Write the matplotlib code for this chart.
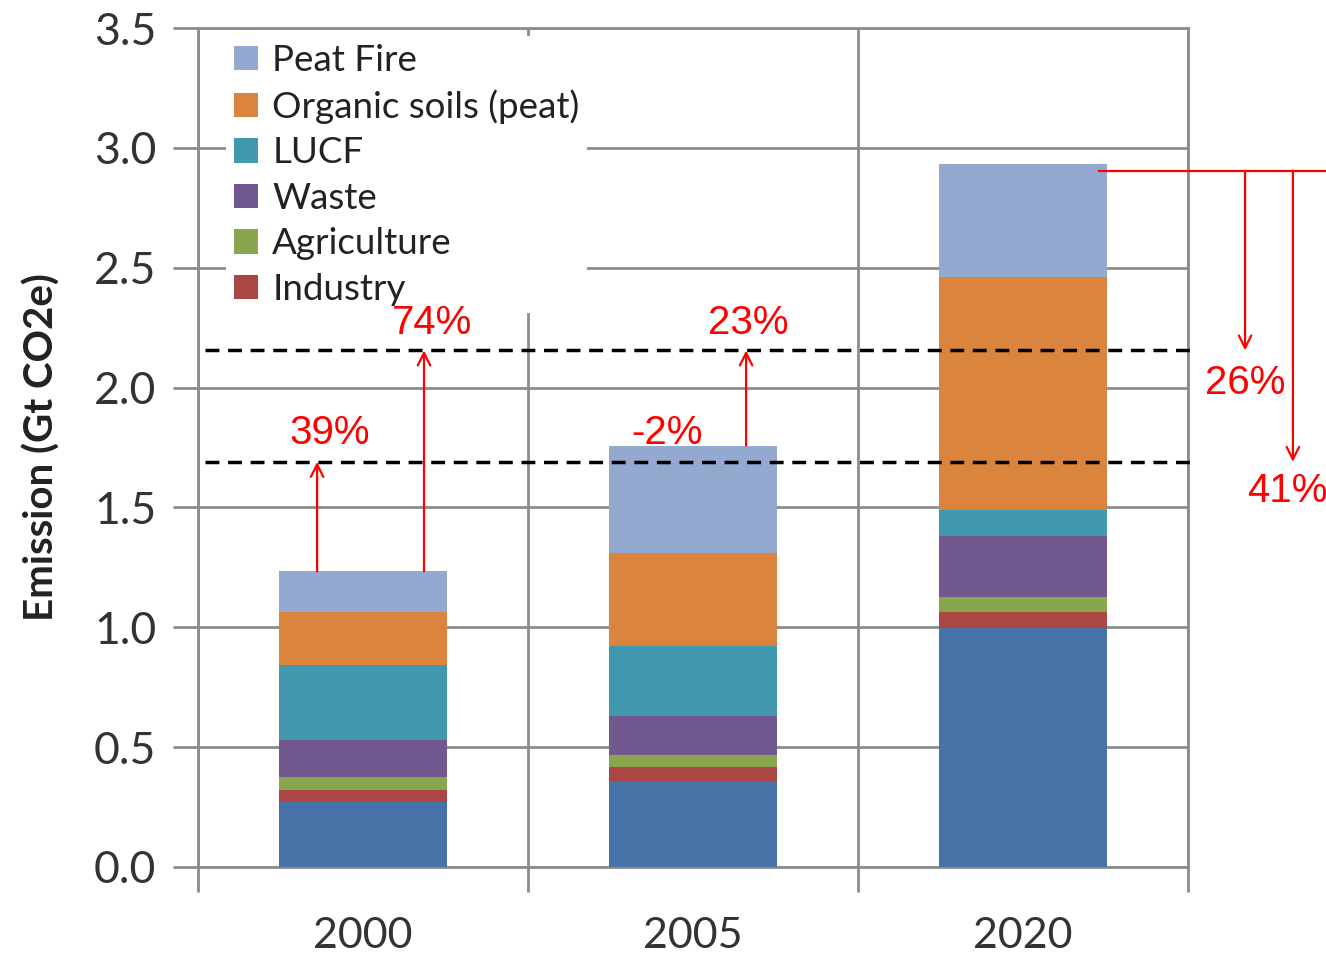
import matplotlib
matplotlib.use("Agg")
import matplotlib.pyplot as plt
from matplotlib.patches import Patch
import numpy as np

# data (Gt CO2e)
years = ["2000", "2005", "2020"]
sectors = ["Energy", "Industry", "Agriculture", "Waste", "LUCF",
           "Organic soils (peat)", "Peat Fire"]
energy = [0.272, 0.360, 0.998]
industry = [0.049, 0.058, 0.066]
agriculture = [0.053, 0.051, 0.061]
waste = [0.155, 0.162, 0.256]
lucf = [0.313, 0.290, 0.107]
organic_soils = [0.222, 0.389, 0.973]
peat_fire = [0.169, 0.448, 0.471]

colors = ["#4672A8", "#AA4643", "#89A54E", "#71588F", "#4198AF",
          "#DB843D", "#93A9CF"]

# reference levels (dashed lines) and change labels
level_low = 1.69
level_high = 2.155

plt.rcParams["font.family"] = ["Lato", "DejaVu Sans"]

fig = plt.figure(figsize=(13.26, 9.63), dpi=100)
ax = fig.add_axes([0.1493, 0.0997, 0.7466, 0.8712])

x = np.arange(len(years))
series = [energy, industry, agriculture, waste, lucf, organic_soils, peat_fire]
bottom = np.zeros(len(years))
for vals, col in zip(series, colors):
    ax.bar(x, vals, width=0.51, bottom=bottom, color=col, zorder=3)
    bottom += np.array(vals)
totals = bottom

ax.set_xlim(-0.5, 2.5)
ax.set_ylim(0, 3.5)
ax.set_yticks(np.arange(0, 3.51, 0.5))
ax.set_yticklabels([f"{v:.1f}" for v in np.arange(0, 3.51, 0.5)])
ax.set_xticks(x)
ax.set_xticklabels(years)
ax.set_xticks([-0.5, 0.5, 1.5, 2.5], minor=True)

grid_col = "#8c8c8c"
ax.grid(axis="y", which="major", color=grid_col, lw=2, zorder=0)
ax.grid(axis="x", which="minor", color=grid_col, lw=2, zorder=0)
for s in ax.spines.values():
    s.set_color(grid_col)
    s.set_linewidth(2)
ax.tick_params(axis="x", which="major", length=0, labelsize=31,
               labelcolor="#333333", pad=36)
ax.tick_params(axis="x", which="minor", length=18, width=2, color=grid_col,
               direction="out")
ax.tick_params(axis="y", length=18, width=2, color=grid_col,
               labelsize=32, labelcolor="#333333", pad=12)
ax.set_ylabel("Emission (Gt CO2e)", fontsize=29, fontweight="bold",
              color="#222222", labelpad=24)

# legend (energy has no entry in the reference)
handles = [Patch(facecolor=c, edgecolor="none") for c in colors[1:]][::-1]
labels = sectors[1:][::-1]
leg = ax.legend(handles, labels, loc="upper left", fontsize=26.5,
                bbox_to_anchor=(0.01, 1.012), frameon=True, framealpha=1,
                facecolor="white", edgecolor="none", handlelength=0.65,
                handleheight=0.65, handletextpad=0.4, labelspacing=0.34,
                borderpad=0.2, fancybox=False)
leg.set_zorder(2)
for t in leg.get_texts():
    t.set_color("#222222")

# dashed reference levels
for lvl in (level_low, level_high):
    ax.plot([-0.48, 2.52], [lvl, lvl], color="black", lw=2.5,
            ls=(0, (4, 2.5)), zorder=5, clip_on=False)

red = "#ff0000"
arrow = dict(arrowstyle="->,head_length=0.9,head_width=0.45", color=red,
             lw=1.6, shrinkA=0, shrinkB=0)
afont = dict(color=red, fontsize=29, family="Liberation Sans", zorder=6)

# increases from 2000 and 2005
ax.annotate("", xy=(-0.139, level_low), xytext=(-0.139, totals[0]),
            arrowprops=arrow, zorder=6)
ax.annotate("", xy=(0.185, level_high), xytext=(0.185, totals[0]),
            arrowprops=arrow, zorder=6)
ax.annotate("", xy=(1.161, level_high), xytext=(1.161, totals[1]),
            arrowprops=arrow, zorder=6)
ax.text(-0.1, 1.81, "39%", ha="center", va="center", **afont)
ax.text(0.21, 2.27, "74%", ha="center", va="center", **afont)
ax.text(1.167, 2.27, "23%", ha="center", va="center", **afont)
ax.text(0.92, 1.81, "-2%", ha="center", va="center", **afont)

# reductions from 2020 level
top_2020 = 2.905
ax.plot([2.23, 2.95], [top_2020, top_2020], color=red, lw=1.6,
        clip_on=False, zorder=6)
ax.annotate("", xy=(2.673, level_high), xytext=(2.673, top_2020),
            arrowprops=arrow, annotation_clip=False, zorder=6)
ax.annotate("", xy=(2.818, level_low), xytext=(2.818, top_2020),
            arrowprops=arrow, annotation_clip=False, zorder=6)
ax.text(2.673, 2.02, "26%", ha="center", va="center", clip_on=False, **afont)
ax.text(2.68, 1.57, "41%", ha="left", va="center", clip_on=False, **afont)

fig.savefig("out.png", dpi=100)
